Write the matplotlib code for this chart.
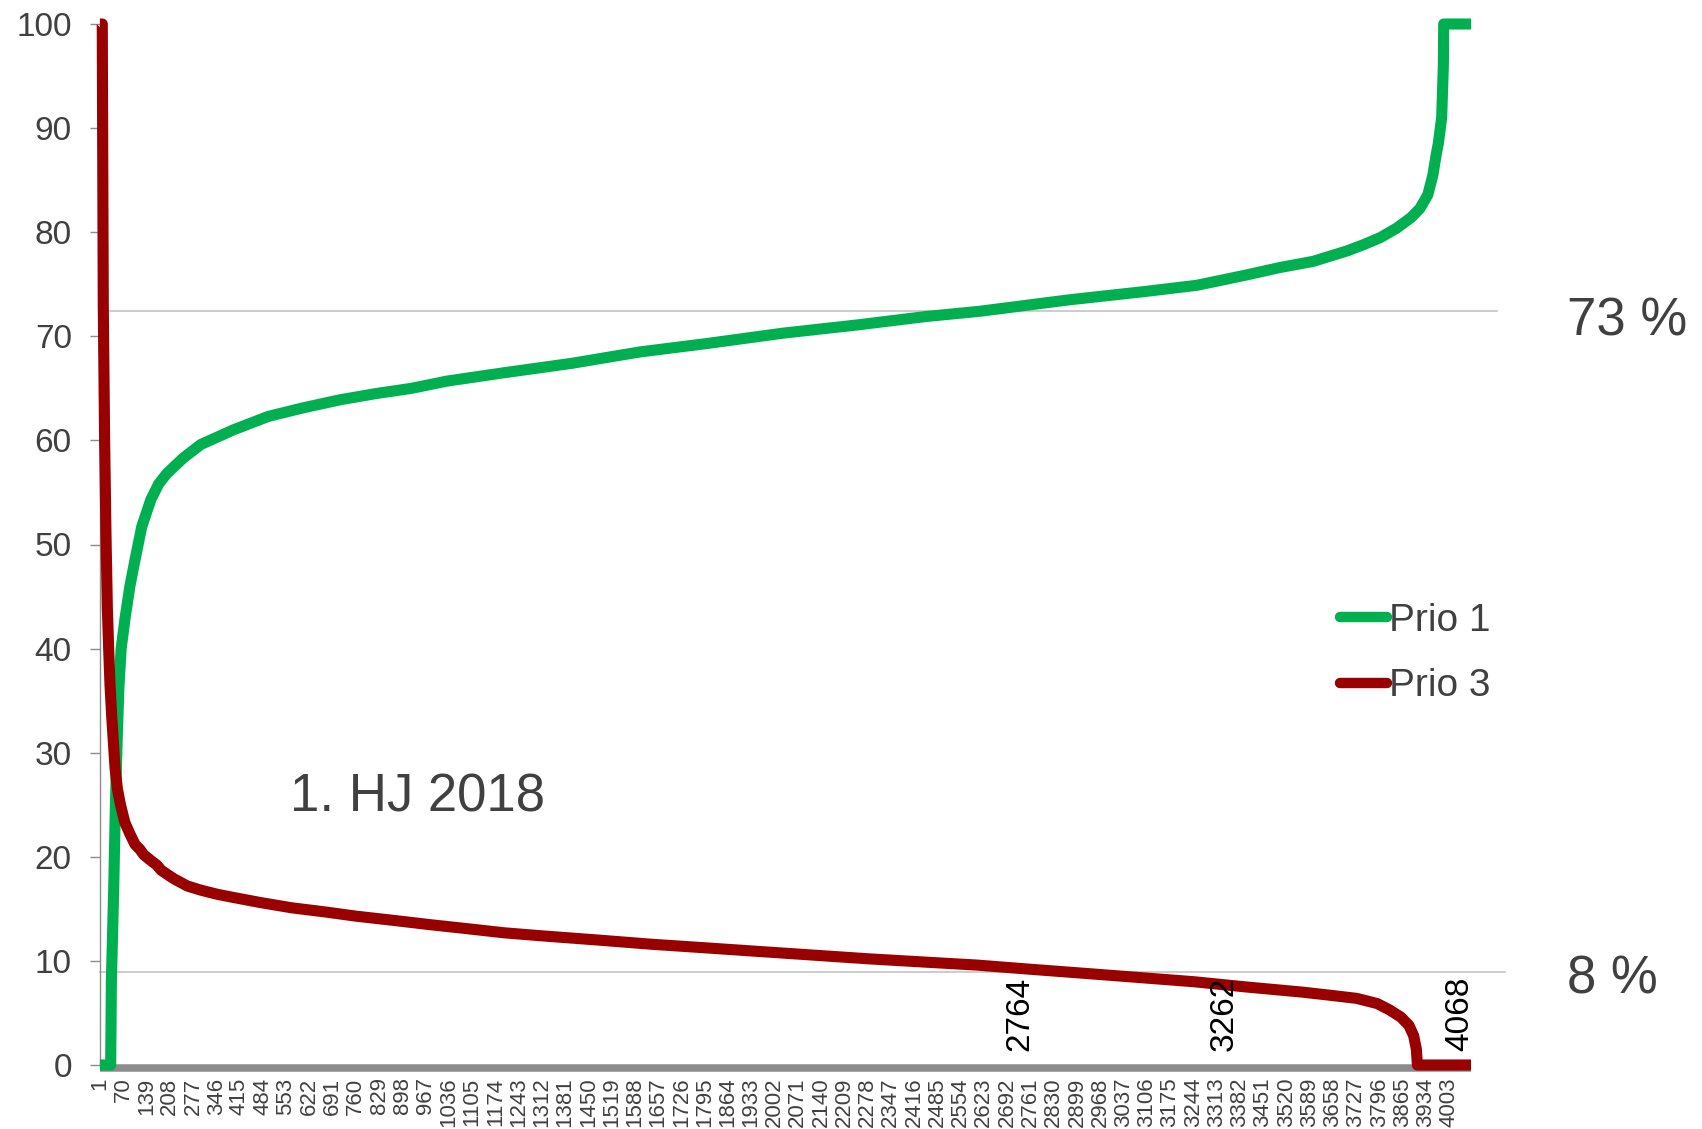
import matplotlib
matplotlib.use("Agg")
import matplotlib.pyplot as plt

plt.rcParams['font.family'] = ['Liberation Sans', 'DejaVu Sans']

# ---------------- data ----------------
n_items = 4068
x_ticks = list(range(1, 4004, 69))
x_tick_labels = [str(v) for v in x_ticks]
y_ticks = [0, 10, 20, 30, 40, 50, 60, 70, 80, 90, 100]

prio1_x = [1, 33, 35, 42, 47, 52, 57, 64, 76, 90, 105, 125, 152, 175, 199, 248, 300,
           396, 500, 600, 713, 820, 925, 1031, 1200, 1400, 1603, 1800, 2027, 2250,
           2451, 2610, 2875, 3100, 3255, 3403, 3500, 3600, 3700, 3749, 3800, 3848,
           3890, 3917, 3940, 3955, 3965, 3971, 3981, 3986, 3987, 4068]
prio1_y = [0, 0, 8, 17, 25, 31, 36, 40, 43, 46, 48.5, 51.7, 54.3, 55.8, 56.8, 58.3, 59.6,
           61.0, 62.3, 63.1, 63.9, 64.5, 65.0, 65.7, 66.5, 67.4, 68.5, 69.3, 70.3, 71.1,
           71.9, 72.4, 73.5, 74.3, 74.9, 75.9, 76.6, 77.2, 78.2, 78.8, 79.5, 80.4,
           81.4, 82.3, 83.6, 85.5, 87.5, 88.5, 91, 96, 100, 100]

prio3_x = [1, 8, 11, 15, 19, 23, 27, 31, 36, 41, 46, 53, 62, 75, 90, 105, 120, 131, 150,
           170, 183, 220, 260, 300, 349, 396, 478, 570, 670, 760, 870, 975, 1089, 1200,
           1315, 1480, 1637, 1800, 1959, 2120, 2281, 2440, 2602, 2760, 2924, 3085, 3246,
           3400, 3568, 3650, 3729, 3790, 3826, 3860, 3884, 3898, 3906, 3909, 4068]
prio3_y = [100, 100, 73, 60, 51, 44, 40, 36.5, 33.5, 31, 28.5, 26.5, 25, 23.3, 22.2, 21.2,
           20.7, 20.2, 19.7, 19.2, 18.7, 17.9, 17.2, 16.8, 16.4, 16.1, 15.6, 15.1, 14.7,
           14.3, 13.9, 13.5, 13.1, 12.7, 12.4, 12.0, 11.6, 11.25, 10.9, 10.55, 10.2, 9.9,
           9.6, 9.2, 8.8, 8.4, 8.0, 7.5, 7.0, 6.7, 6.4, 5.9, 5.3, 4.6, 3.8, 2.8, 1.5, 0, 0]

series_names = ["Prio 1", "Prio 3"]
ref_levels = [72.4, 8.9]
ref_texts = ["73 %", "8 %"]
marker_labels = ["2764", "3262", "4068"]
marker_pos = [2730, 3337, 4036]
period_label = "1. HJ 2018"

# ---------------- style ----------------
GREEN = '#00B050'
RED = '#990000'
TXT = '#404040'
AXC = '#8c8c8c'
W, H = 1702, 1129
LW = 8.0

fig = plt.figure(figsize=(W / 100, H / 100), dpi=100)
ax = fig.add_axes([99.9 / W, 1 - 1065 / H, (1471 - 99.9) / W, (1065 - 24) / H])
ax.set_xlim(1, n_items)
ax.set_ylim(0, 100)

# reference lines
ax.axhline(ref_levels[0], xmin=0, xmax=(1497 - 99.9) / (1471 - 99.9), color='#bfbfbf',
           lw=1.1, clip_on=False, zorder=1)
ax.axhline(ref_levels[1], xmin=0, xmax=(1505 - 99.9) / (1471 - 99.9), color='#bfbfbf',
           lw=1.1, clip_on=False, zorder=1)

ax.plot(prio1_x, prio1_y, color=GREEN, lw=LW, solid_capstyle='butt',
        solid_joinstyle='round', clip_on=False, zorder=4, label=series_names[0])
ax.plot(prio3_x, prio3_y, color=RED, lw=LW, solid_capstyle='butt',
        solid_joinstyle='round', clip_on=False, zorder=5, label=series_names[1])

# axes styling
for s in ['top', 'right']:
    ax.spines[s].set_visible(False)
ax.spines['left'].set_color(AXC)
ax.spines['left'].set_linewidth(1.0)
ax.spines['bottom'].set_color(AXC)
ax.spines['bottom'].set_linewidth(5.4)
ax.spines['bottom'].set_position(('outward', 2))
ax.spines['bottom'].set_capstyle('butt')

ax.set_yticks(y_ticks)
ax.set_yticklabels([str(v) for v in y_ticks])
ax.tick_params(axis='y', length=7.2, width=1, color=AXC, pad=13,
               labelsize=24, labelcolor=TXT)
ax.set_xticks(x_ticks)
ax.set_xticklabels(x_tick_labels, rotation=90)
ax.tick_params(axis='x', length=0, pad=7, labelsize=16, labelcolor=TXT)

# annotations
for lab, pos in zip(marker_labels, marker_pos):
    ax.text(pos, 1.3, lab, rotation=90, ha='center', va='bottom', fontsize=24,
            color='black', zorder=6)

fig.text(1567 / W, 1 - 336 / H, ref_texts[0], fontsize=38, color=TXT,
         ha='left', va='baseline')
fig.text(1567 / W, 1 - 993 / H, ref_texts[1], fontsize=38, color=TXT,
         ha='left', va='baseline')
fig.text(290 / W, 1 - 811 / H, period_label, fontsize=38, color=TXT,
         ha='left', va='baseline')

leg = ax.legend(loc='upper left', bbox_to_anchor=(1340 / W, 1 - 603 / H),
                bbox_transform=fig.transFigure, frameon=False, fontsize=28,
                handlelength=1.2, handletextpad=0.05, labelspacing=0.75,
                borderpad=0, borderaxespad=0)
for t in leg.get_texts():
    t.set_color(TXT)
for h in leg.get_lines():
    h.set_solid_capstyle('round')
    h.set_linewidth(7.5)

fig.savefig('out.png', dpi=100)
